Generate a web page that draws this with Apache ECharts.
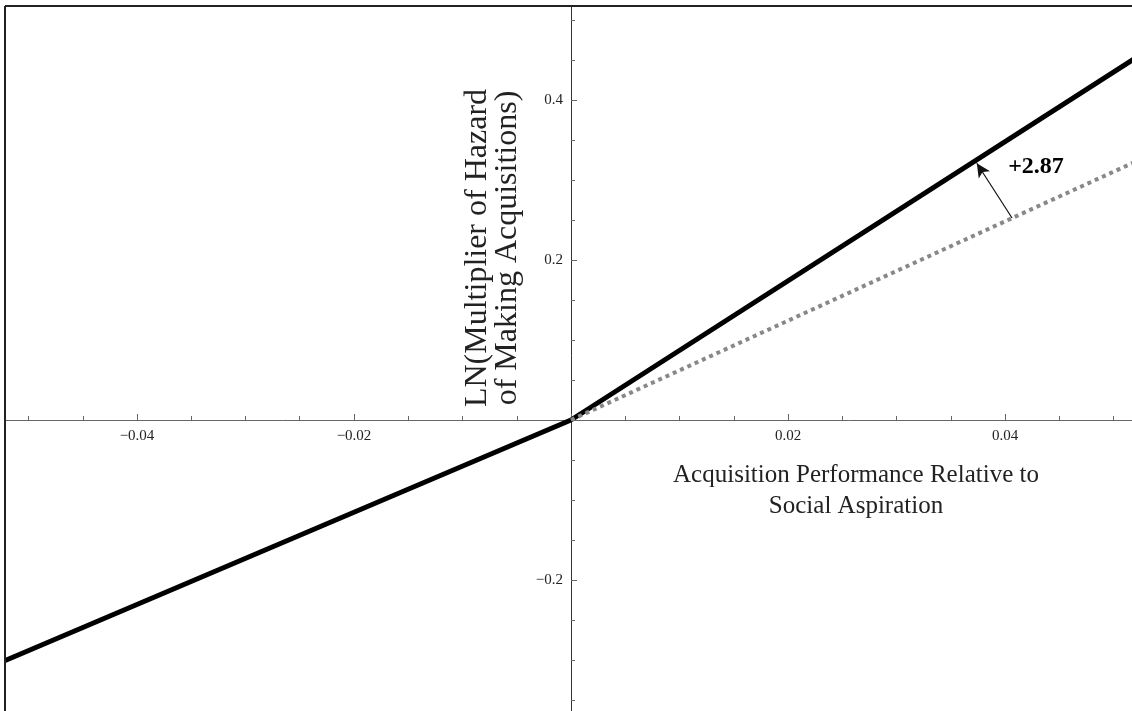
<!DOCTYPE html>
<html>
<head>
<meta charset="utf-8">
<script src="https://cdn.jsdelivr.net/npm/echarts@6/dist/echarts.min.js"></script>
<style>
html,body{margin:0;padding:0;background:#fff;}
#chart{width:1132px;height:711px;}
</style>
</head>
<body>
<div id="chart"></div>
<script>
// ---- data ----
const solidX = [-0.0522, 0, 0.0522];
const solidY = [-0.301, 0, 0.454];
const dottedX = [0, 0.0522];
const dottedY = [0, 0.324];
const arrowFrom = [0.04065, 0.2525];
const arrowTo = [0.0374, 0.321];
const annotText = '+2.87';
const annotPos = [0.04286, 0.316];
const xTitle = 'Acquisition Performance Relative to\nSocial Aspiration';
const yTitle = 'LN(Multiplier of Hazard\nof Making Acquisitions)';
const xTickStep = 0.02;
const yTickStep = 0.2;

const serif = '"Liberation Serif", "DejaVu Serif", serif';
const fmt = v => (Math.abs(v) < 1e-9 ? '' : (+v.toFixed(4)).toString().replace('-', '\u2212'));

const chart = echarts.init(document.getElementById('chart'), null, {renderer: 'canvas'});
const axisColor = '#666';

// grid: x range [-0.06,0.06] spans x=-80..1222 ; y range [-0.4,0.6] spans y=740..-60
chart.setOption({
  animation: false,
  backgroundColor: '#fff',
  grid: {left: -80, right: -90, top: -60, bottom: -29, containLabel: false, outerBoundsMode: 'none'},
  xAxis: {
    type: 'value', min: -0.06, max: 0.06, interval: xTickStep,
    position: 'bottom', offset: -320,
    axisLine: {show: true, onZero: false, lineStyle: {color: axisColor, width: 1}},
    axisTick: {show: true, inside: true, length: 6, lineStyle: {color: axisColor}},
    minorTick: {show: true, splitNumber: 4, length: 4, lineStyle: {color: axisColor}},
    axisLabel: {formatter: fmt, fontFamily: serif, fontSize: 15, color: '#222', margin: 9},
    splitLine: {show: false}
  },
  yAxis: {
    type: 'value', min: -0.4, max: 0.6, interval: yTickStep,
    position: 'left', offset: -651,
    axisLine: {show: true, onZero: false, lineStyle: {color: '#333', width: 1}},
    axisTick: {show: true, inside: true, length: 6, lineStyle: {color: axisColor}},
    minorTick: {show: true, splitNumber: 4, length: 4, lineStyle: {color: axisColor}},
    axisLabel: {formatter: fmt, fontFamily: serif, fontSize: 15, color: '#222', margin: 8},
    splitLine: {show: false}
  },
  series: [
    {
      type: 'line', name: 'solid', showSymbol: false, z: 3,
      data: solidX.map((x, i) => [x, solidY[i]]),
      lineStyle: {color: '#000', width: 5},
      markLine: {
        silent: true, animation: false,
        symbol: ['none', 'arrow'], symbolSize: [10, 14],
        label: {show: false},
        lineStyle: {color: '#111', width: 1.2, type: 'solid'},
        data: [[{coord: arrowFrom}, {coord: arrowTo}]]
      },
      markPoint: {
        silent: true, symbol: 'circle', symbolSize: 0,
        label: {show: true, position: 'inside', formatter: annotText, fontFamily: serif,
                fontWeight: 'bold', fontSize: 24, color: '#000'},
        data: [{coord: annotPos}]
      }
    },
    {
      type: 'line', name: 'dotted', showSymbol: false, z: 4,
      data: dottedX.map((x, i) => [x, dottedY[i]]),
      lineStyle: {color: '#888', width: 4, type: 'dotted'}
    }
  ],
  graphic: [
    {type: 'rect', z: 100, shape: {x: 0, y: 0, width: 4, height: 711}, style: {fill: '#fff'}},
    {type: 'rect', z: 100, shape: {x: 0, y: 0, width: 1132, height: 5}, style: {fill: '#fff'}},
    {type: 'line', z: 101, shape: {x1: 5, y1: 6, x2: 1132, y2: 6}, style: {stroke: '#222', lineWidth: 2}},
    {type: 'line', z: 101, shape: {x1: 5, y1: 6, x2: 5, y2: 711}, style: {stroke: '#222', lineWidth: 2}},
    {type: 'text', z: 50, x: 856, y: 491,
      style: {text: xTitle, fontFamily: serif, fontSize: 25, lineHeight: 31, fill: '#222',
              textAlign: 'center', textVerticalAlign: 'middle'}},
    {type: 'text', z: 50, x: 493, y: 248, rotation: Math.PI / 2,
      style: {text: yTitle, fontFamily: serif, fontSize: 32, lineHeight: 30, fill: '#222',
              textAlign: 'center', textVerticalAlign: 'middle'}}
  ]
});
</script>
</body>
</html>
